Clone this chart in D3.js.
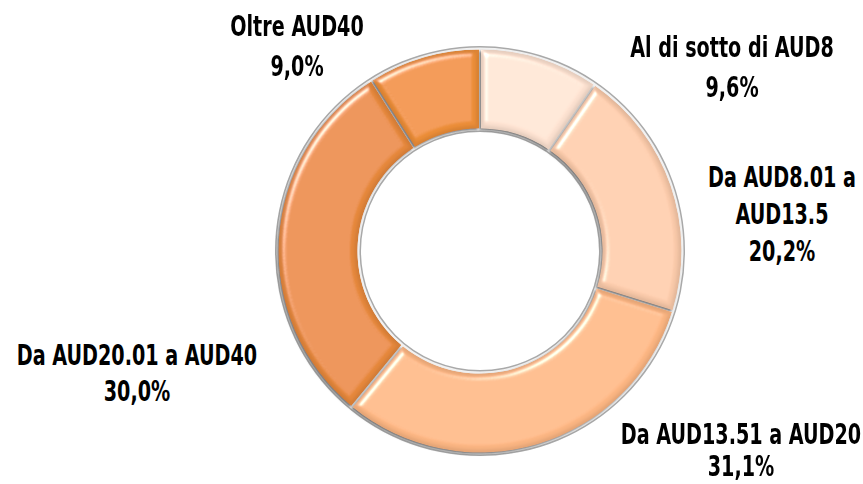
<!DOCTYPE html>
<html>
<head>
<meta charset="utf-8">
<script src="https://cdn.jsdelivr.net/npm/d3@7"></script>
<style>
  html, body { margin: 0; padding: 0; background: #fff; }
  svg { display: block; }
  .lbl { font-family: "DejaVu Sans Condensed", "DejaVu Sans", sans-serif; font-weight: bold; fill: #000; }
</style>
</head>
<body>
<script>
// ---- data ----
const categories = ["Al di sotto di AUD8", "Da AUD8.01 a AUD13.5", "Da AUD13.51 a AUD20", "Da AUD20.01 a AUD40", "Oltre AUD40"];
const values = [9.6, 20.2, 31.1, 30.0, 9.0];
const colors = ["#FCE1D0", "#F9C9A9", "#FBB582", "#E6883C", "#EC8E38"];

// ---- layout (not data) ----
const W = 863, H = 484;
const cx = 480, cy = 251, outerR = 203, innerR = 121;
const textScaleX = 0.735;
const labelLayout = [
  { lines: ["Al di sotto di AUD8"], x: 732, y: 57, gap: 40 },
  { lines: ["Da AUD8.01 a", "AUD13.5"], x: 782, y: 187, gap: 37 },
  { lines: ["Da AUD13.51 a AUD20"], x: 741, y: 444, gap: 32 },
  { lines: ["Da AUD20.01 a AUD40"], x: 137, y: 365, gap: 36 },
  { lines: ["Oltre AUD40"], x: 297, y: 36, gap: 40 }
];

const locale = d3.formatLocale({ decimal: ",", thousands: ".", grouping: [3], currency: ["", "€"] });
const fmt = v => locale.format(".1f")(v) + "%";

const svg = d3.select("body").append("svg").attr("width", W).attr("height", H);
const defs = svg.append("defs");

// bevel-like lighting filter
const f = defs.append("filter").attr("id", "bevel").attr("x", "-10%").attr("y", "-10%").attr("width", "120%").attr("height", "120%");
f.append("feGaussianBlur").attr("in", "SourceAlpha").attr("stdDeviation", 3).attr("result", "blur");
const spec = f.append("feSpecularLighting").attr("in", "blur").attr("surfaceScale", 5)
  .attr("specularConstant", 0.9).attr("specularExponent", 25).attr("lighting-color", "#ffffff").attr("result", "spec");
spec.append("feDistantLight").attr("azimuth", 225).attr("elevation", 40);
f.append("feComposite").attr("in", "spec").attr("in2", "SourceAlpha").attr("operator", "in").attr("result", "specOut");
const dif = f.append("feDiffuseLighting").attr("in", "blur").attr("surfaceScale", 3)
  .attr("diffuseConstant", 1.0).attr("lighting-color", "#ffffff").attr("result", "diff");
dif.append("feDistantLight").attr("azimuth", 225).attr("elevation", 90);
f.append("feComposite").attr("in", "SourceGraphic").attr("in2", "diff").attr("operator", "arithmetic")
  .attr("k1", 1).attr("k2", 0).attr("k3", 0).attr("k4", 0).attr("result", "lit");
f.append("feComposite").attr("in", "lit").attr("in2", "specOut").attr("operator", "arithmetic")
  .attr("k1", 0).attr("k2", 1).attr("k3", 0.8).attr("k4", 0).attr("result", "lit2");
f.append("feComposite").attr("in", "lit2").attr("in2", "SourceAlpha").attr("operator", "in");

const sh = defs.append("filter").attr("id", "shadow").attr("x", "-10%").attr("y", "-10%").attr("width", "120%").attr("height", "120%");
sh.append("feDropShadow").attr("dx", -1.5).attr("dy", 1.5).attr("stdDeviation", 1).attr("flood-color", "#555").attr("flood-opacity", 0.8);

const g = svg.append("g").attr("transform", `translate(${cx},${cy})`);

const pie = d3.pie().sort(null).value(d => d).startAngle(0).endAngle(2 * Math.PI);
const arcs = pie(values);

// ring outline (gray border with highlight)
const ringArc = d3.arc().innerRadius(innerR - 2).outerRadius(outerR + 2).startAngle(0).endAngle(2 * Math.PI);
g.append("path").attr("d", ringArc()).attr("fill", "#a9a9a9");
const ringArc2 = d3.arc().innerRadius(innerR - 0.5).outerRadius(outerR + 0.5).startAngle(0).endAngle(2 * Math.PI);
g.append("path").attr("d", ringArc2()).attr("fill", "#f2f2f2");

const arc = d3.arc().innerRadius(innerR + 1.5).outerRadius(outerR - 1.5).padAngle(0.008);

const sg = g.append("g").attr("filter", "url(#shadow)");
sg.selectAll("path.slice")
  .data(arcs)
  .join("path")
  .attr("class", "slice")
  .attr("d", arc)
  .attr("fill", (d, i) => colors[i])
  .attr("filter", "url(#bevel)");

// labels
const lg = svg.append("g");
arcs.forEach((d, i) => {
  const L = labelLayout[i];
  const lines = L.lines.concat([fmt(values[i])]);
  const t = lg.append("text").attr("class", "lbl").attr("text-anchor", "middle")
    .attr("font-size", 29)
    .attr("transform", `translate(${L.x},0) scale(${textScaleX},1)`);
  lines.forEach((s, k) => {
    t.append("tspan").attr("x", 0).attr("y", L.y + k * L.gap).text(s);
  });
});
</script>
</body>
</html>
